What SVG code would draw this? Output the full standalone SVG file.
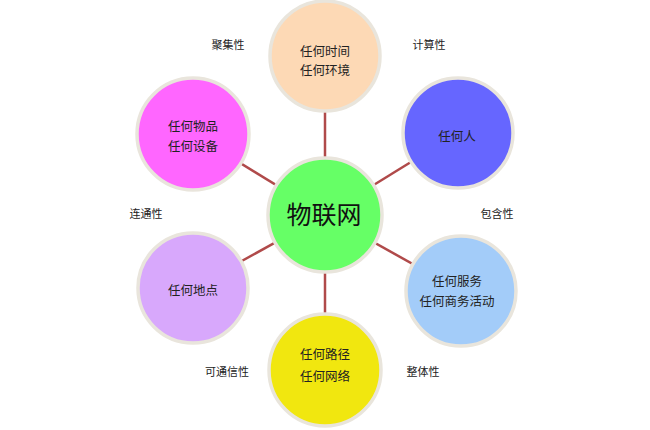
<svg xmlns="http://www.w3.org/2000/svg" width="650" height="430" viewBox="0 0 650 430">
<style>
.node{stroke:#E9E5DC;stroke-width:3.5}
.t{font-family:"Noto Sans CJK SC","Liberation Sans",sans-serif;font-size:12.5px;fill:#222;text-anchor:middle;dominant-baseline:central}
.lbl{font-family:"Noto Sans CJK SC","Liberation Sans",sans-serif;font-size:11px;fill:#222;text-anchor:middle;dominant-baseline:central}
.c{stroke:#B04A4A;stroke-width:2.5}
</style>
<rect width="650" height="430" fill="#fff"/>
<g id="connectors">
<line class="c" x1="325" y1="215" x2="325" y2="56"/>
<line class="c" x1="325" y1="215" x2="325" y2="370"/>
<line class="c" x1="325" y1="215" x2="193" y2="134"/>
<line class="c" x1="325" y1="215" x2="458" y2="133"/>
<line class="c" x1="325" y1="215" x2="193" y2="288"/>
<line class="c" x1="325" y1="215" x2="461" y2="291"/>
</g>
<g id="node-top">
<circle class="node" cx="325" cy="56" r="55" fill="#FDD9B5"/>
<text class="t" x="325" y="50">任何时间</text>
<text class="t" x="325" y="69">任何环境</text>
</g>
<g id="node-center">
<circle class="node" cx="325" cy="215" r="57" fill="#66FF66"/>
<text class="t" x="324" y="213" style="font-size:25px;fill:#111">物联网</text>
</g>
<g id="node-magenta">
<circle class="node" cx="193" cy="134" r="56" fill="#FF66FF"/>
<text class="t" x="193" y="125">任何物品</text>
<text class="t" x="193" y="145">任何设备</text>
</g>
<g id="node-blue">
<circle class="node" cx="458" cy="133" r="55" fill="#6666FF"/>
<text class="t" x="457" y="135">任何人</text>
</g>
<g id="node-lavender">
<circle class="node" cx="193" cy="288" r="55" fill="#D8A8FC"/>
<text class="t" x="193" y="289">任何地点</text>
</g>
<g id="node-lightblue">
<circle class="node" cx="461" cy="291" r="55" fill="#A3CCF9"/>
<text class="t" x="457" y="280">任何服务</text>
<text class="t" x="457" y="300">任何商务活动</text>
</g>
<g id="node-yellow">
<circle class="node" cx="325" cy="370" r="56" fill="#F1E70F"/>
<text class="t" x="325" y="353">任何路径</text>
<text class="t" x="325" y="375">任何网络</text>
</g>
<g id="labels">
<text class="lbl" x="228" y="44">聚集性</text>
<text class="lbl" x="429" y="44">计算性</text>
<text class="lbl" x="146" y="213">连通性</text>
<text class="lbl" x="497" y="213">包含性</text>
<text class="lbl" x="227" y="371">可通信性</text>
<text class="lbl" x="423" y="371">整体性</text>
</g>
</svg>
